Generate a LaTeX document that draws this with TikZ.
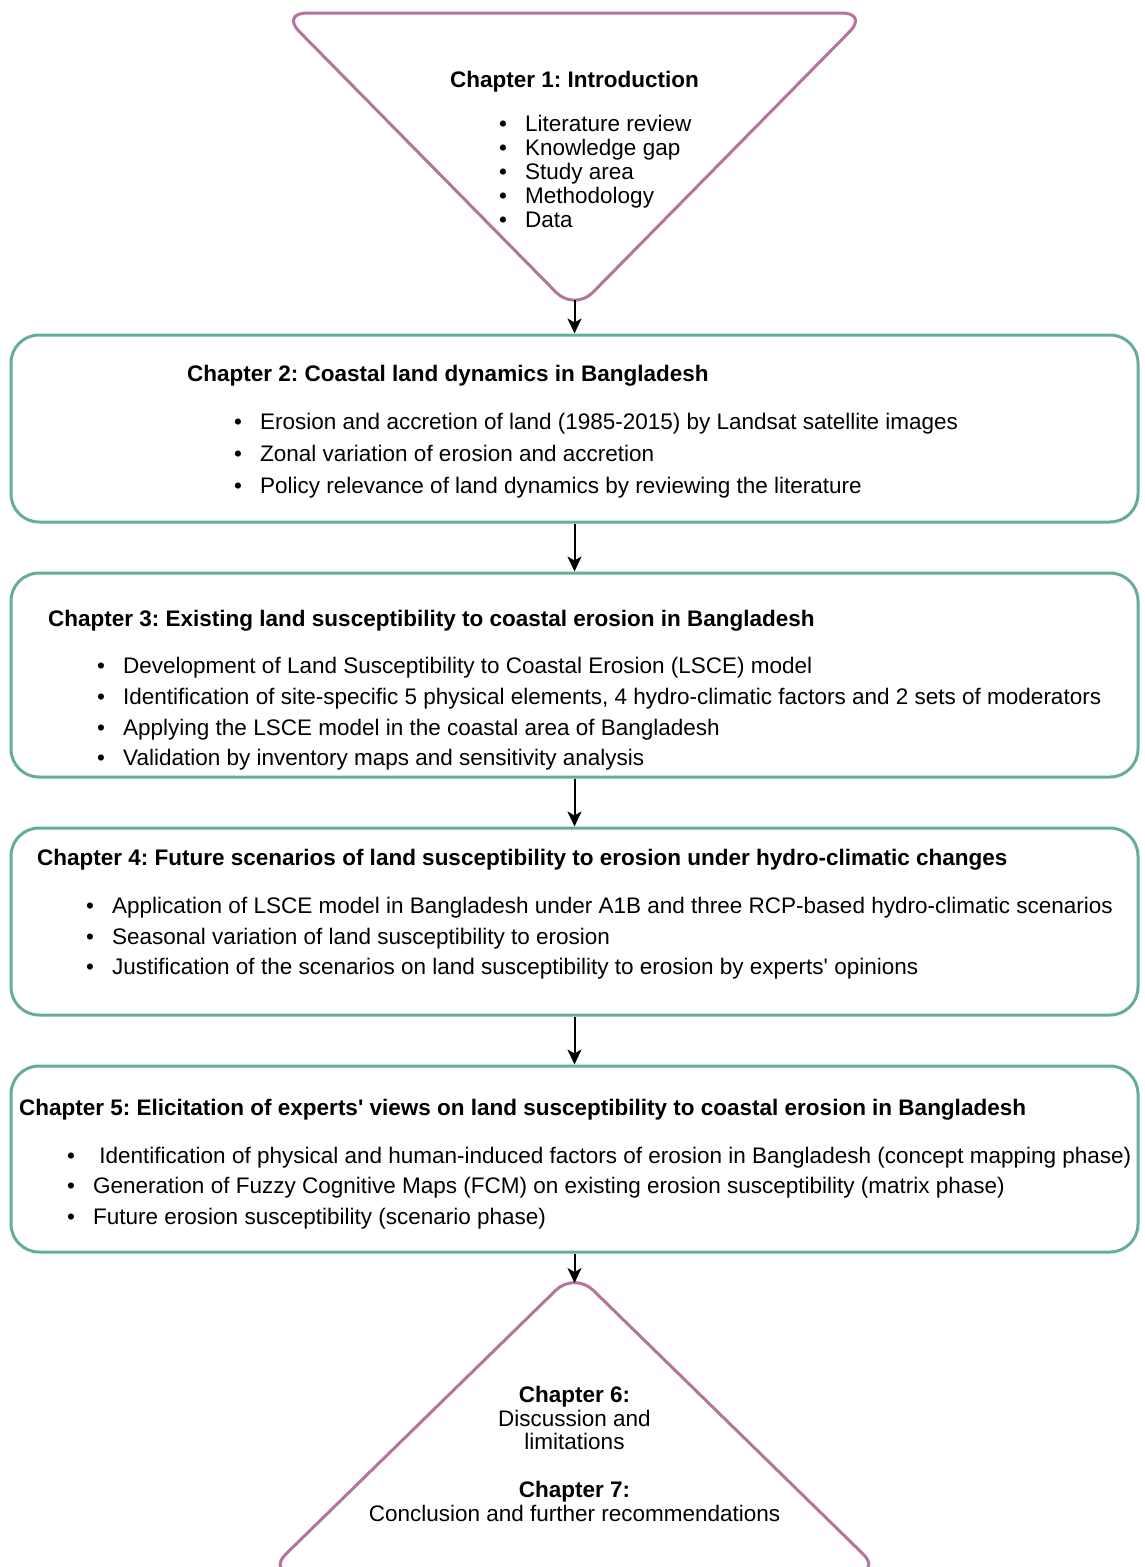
\documentclass[tikz,border=0pt]{standalone}
\usepackage{fontspec}
\setmainfont{Liberation Sans}
\usetikzlibrary{arrows.meta}
\definecolor{chapterpurple}{HTML}{B5739D}
\definecolor{chapterteal}{HTML}{67AB9F}
\newcommand\bodysize{\fontsize{22.5}{26}\selectfont}
\newcommand\bulletmark{\makebox[26pt][l]{•}}
\frenchspacing

\begin{document}
\begin{tikzpicture}[x=1pt,y=-1pt,
  chapbox/.style={draw=chapterteal, line width=3pt, rounded corners=28pt,
    minimum width=1127pt, inner sep=0pt},
  funnel/.style={draw=chapterpurple, line width=3pt, rounded corners=26pt, line join=round},
  heading/.style={anchor=base west, inner sep=0pt, font=\bodysize\bfseries},
  entry/.style={anchor=base west, inner sep=0pt, font=\bodysize},
  centred/.style={anchor=base, inner sep=0pt, font=\bodysize},
  centredbold/.style={anchor=base, inner sep=0pt, font=\bodysize\bfseries},
  flow/.style={draw=black, line width=2pt, -{Stealth[length=15pt,width=14pt,inset=4pt]}}
]
\useasboundingbox (0,0) rectangle (1144,1567);
\clip (0,0) rectangle (1144,1567);

% Chapter 1: downward triangle
\draw[funnel] (281,13) -- (868,13) -- (574.5,311) -- cycle;
\coordinate (introtip) at (574.5,300);
\node[centredbold] (h1) at (574.5,87) {Chapter 1: Introduction};
\node[entry] (i11) at (499,131) {\bulletmark Literature review};
\node[entry] (i12) at (499,155) {\bulletmark Knowledge gap};
\node[entry] (i13) at (499,179) {\bulletmark Study area};
\node[entry] (i14) at (499,203) {\bulletmark Methodology};
\node[entry] (i15) at (499,227) {\bulletmark Data};

% Chapters 2 to 5: rounded boxes
\node[chapbox, minimum height=187pt] (ch2) at (574.5,428.5) {};
\node[chapbox, minimum height=204pt] (ch3) at (574.5,675) {};
\node[chapbox, minimum height=187pt] (ch4) at (574.5,921.5) {};
\node[chapbox, minimum height=186pt] (ch5) at (574.5,1159) {};

\node[heading] (h2) at (187,381) {Chapter 2: Coastal land dynamics in Bangladesh};
\node[entry] (i21) at (234,429) {\bulletmark Erosion and accretion of land (1985-2015) by Landsat satellite images};
\node[entry] (i22) at (234,461) {\bulletmark Zonal variation of erosion and accretion};
\node[entry] (i23) at (234,493) {\bulletmark Policy relevance of land dynamics by reviewing the literature};

\node[heading] (h3) at (48,626) {Chapter 3: Existing land susceptibility to coastal erosion in Bangladesh};
\node[entry] (i31) at (97,673) {\bulletmark Development of Land Susceptibility to Coastal Erosion (LSCE) model};
\node[entry] (i32) at (97,704) {\bulletmark Identification of site-specific 5 physical elements, 4 hydro-climatic factors and 2 sets of moderators};
\node[entry] (i33) at (97,735) {\bulletmark Applying the LSCE model in the coastal area of Bangladesh};
\node[entry] (i34) at (97,765) {\bulletmark Validation by inventory maps and sensitivity analysis};

\node[heading] (h4) at (37,865) {Chapter 4: Future scenarios of land susceptibility to erosion under hydro-climatic changes};
\node[entry] (i41) at (86,913) {\bulletmark Application of LSCE model in Bangladesh under A1B and three RCP-based hydro-climatic scenarios};
\node[entry] (i42) at (86,944) {\bulletmark Seasonal variation of land susceptibility to erosion};
\node[entry] (i43) at (86,974) {\bulletmark Justification of the scenarios on land susceptibility to erosion by experts\textquotesingle{} opinions};

\node[heading] (h5) at (19,1115) {Chapter 5: Elicitation of experts\textquotesingle{} views on land susceptibility to coastal erosion in Bangladesh};
\node[entry] (i51) at (67,1163) {\bulletmark\ Identification of physical and human-induced factors of erosion in Bangladesh (concept mapping phase)};
\node[entry] (i52) at (67,1193) {\bulletmark Generation of Fuzzy Cognitive Maps (FCM) on existing erosion susceptibility (matrix phase)};
\node[entry] (i53) at (67,1224) {\bulletmark Future erosion susceptibility (scenario phase)};

% Chapters 6 and 7: upward triangle
\draw[funnel] (574.5,1272) -- (881.5,1572) -- (267.5,1572) -- cycle;
\coordinate (closingtop) at (574.5,1283);
\node[centredbold] (h6) at (574.5,1402) {Chapter 6:};
\node[centred] (t61) at (574.5,1426) {Discussion and};
\node[centred] (t62) at (574.5,1449) {limitations};
\node[centredbold] (h7) at (574.5,1497) {Chapter 7:};
\node[centred] (t71) at (574.5,1521) {Conclusion and further recommendations};

% Connectors
\draw[flow] (introtip) -- (ch2.north);
\draw[flow] (ch2.south) -- (ch3.north);
\draw[flow] (ch3.south) -- (ch4.north);
\draw[flow] (ch4.south) -- (ch5.north);
\draw[flow] (ch5.south) -- (closingtop);
\end{tikzpicture}
\end{document}
